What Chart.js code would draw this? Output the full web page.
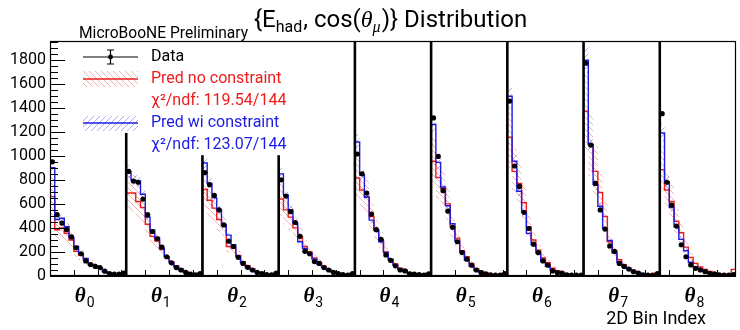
<!DOCTYPE html>
<html><head><meta charset="utf-8">
<script src="https://cdn.jsdelivr.net/npm/chart.js@4.4.0/dist/chart.umd.min.js"></script>
<style>html,body{margin:0;padding:0;background:#fff}#wrap{width:740px;height:330px;position:relative}</style>
</head><body><div id="wrap"><canvas id="c" width="740" height="330"></canvas></div>
<script>
// ---- data ----
const sliceLabels = ['0','1','2','3','4','5','6','7','8'];
const binsPerSlice = 16;
const dataCounts = [
  950,510,440,385,325,235,185,125,95,80,70,40,20,15,15,25,
  870,790,780,640,510,370,310,240,160,110,70,50,30,15,10,20,
  860,760,670,550,425,290,245,155,105,72,50,30,20,12,10,25,
  800,665,535,445,330,205,185,120,105,70,50,30,20,12,8,20,
  1015,850,690,515,385,305,175,130,85,50,42,18,15,12,8,18,
  1315,995,710,540,405,285,195,140,90,50,28,17,10,8,8,20,
  1455,915,745,530,395,265,195,125,90,42,28,25,10,8,8,8,
  1770,1090,770,550,390,250,205,105,80,58,36,25,10,8,8,20,
  1350,780,590,415,260,160,92,64,50,36,22,17,10,8,8,12
];
const predNoConstraint = [
  660,385,400,355,300,205,175,135,105,85,70,40,25,15,15,25,
  690,690,620,570,430,330,290,220,160,120,85,60,35,20,15,25,
  720,630,565,470,425,245,235,170,120,85,60,35,25,15,12,30,
  640,550,490,400,330,245,200,150,115,80,55,38,25,15,12,25,
  815,715,660,495,380,300,200,140,100,65,50,30,20,15,12,25,
  955,820,730,600,410,315,210,160,100,60,40,25,15,10,10,25,
  1155,870,770,610,410,300,215,150,110,65,45,30,18,12,8,10,
  1370,1095,870,695,495,285,210,135,95,65,45,30,20,12,10,25,
  885,715,620,455,360,240,155,105,75,55,38,25,18,12,10,55
];
const predWiConstraint = [
  900,470,480,410,320,245,190,145,95,85,65,35,20,12,12,20,
  870,800,790,680,490,380,320,230,160,110,80,50,30,15,12,20,
  940,770,650,550,420,340,260,165,110,70,50,30,18,12,10,20,
  850,675,550,440,285,230,190,140,100,70,50,30,18,12,8,18,
  1115,840,655,465,380,285,195,135,90,55,40,20,15,12,8,15,
  1260,945,740,585,435,290,200,130,80,45,30,17,10,8,8,15,
  1495,955,705,530,355,260,190,120,80,45,30,20,10,8,6,6,
  1795,1095,760,580,395,295,190,115,80,55,35,25,12,8,8,15,
  1190,785,570,410,305,210,115,75,55,40,25,18,12,8,8,20
];
// relative width of the hatched uncertainty bands, per angular slice
const redRelErr  = [0.24,0.22,0.22,0.22,0.22,0.22,0.22,0.24,0.22];
const blueRelErr = [0.06,0.06,0.06,0.06,0.06,0.06,0.06,0.06,0.06];
// heights of the black slice separators (null = full height)
const separatorTops = [1190,1005,1005,null,null,null,null,null];
const yTickValues = [0,200,400,600,800,1000,1200,1400,1600,1800];
const yMax = 1955;

// ---- helpers building library data ----
function stepPts(vals){const p=[];vals.forEach((v,i)=>{p.push({x:i,y:v});p.push({x:i+1,y:v});});return p;}
function bandPts(vals,rel,sign){return stepPts(vals.map((v,i)=>v*(1+sign*rel[Math.floor(i/binsPerSlice)])));}
function hatch(color,dir){
  const s=6,c=document.createElement('canvas');c.width=s;c.height=s;const x=c.getContext('2d');
  x.strokeStyle=color;x.lineWidth=0.8;x.beginPath();
  if(dir>0){x.moveTo(-1,-1);x.lineTo(s+1,s+1);x.moveTo(s-1,-1);x.lineTo(s+1,1);x.moveTo(-1,s-1);x.lineTo(1,s+1);}
  else{x.moveTo(-1,s+1);x.lineTo(s+1,-1);x.moveTo(-1,1);x.lineTo(1,-1);x.moveTo(s-1,s+1);x.lineTo(s+1,s-1);}
  x.stroke();return x.createPattern(c,'repeat');
}
const ctx=document.getElementById('c').getContext('2d');
const redHatch=hatch('rgba(225,80,80,0.6)',1);
const blueHatch=hatch('rgba(80,80,225,0.6)',-1);
const RED='#ee1c1c', BLUE='#1c1ce6';

const datasets=[
  {label:'Data',data:dataCounts.map((v,i)=>({x:i+0.5,y:v})),showLine:false,pointRadius:2.6,pointBackgroundColor:'#000',pointBorderWidth:0,order:0},
  {label:'blue',data:stepPts(predWiConstraint),borderColor:BLUE,borderWidth:1.4,pointRadius:0,fill:false,order:1},
  {label:'red',data:stepPts(predNoConstraint),borderColor:RED,borderWidth:1.4,pointRadius:0,fill:false,order:2},
  {label:'bLo',data:bandPts(predWiConstraint,blueRelErr,-1),borderWidth:0,pointRadius:0,fill:false,order:3},
  {label:'bHi',data:bandPts(predWiConstraint,blueRelErr,1),borderWidth:0,pointRadius:0,fill:{target:3},backgroundColor:blueHatch,order:4},
  {label:'rLo',data:bandPts(predNoConstraint,redRelErr,-1),borderWidth:0,pointRadius:0,fill:false,order:5},
  {label:'rHi',data:bandPts(predNoConstraint,redRelErr,1),borderWidth:0,pointRadius:0,fill:{target:5},backgroundColor:redHatch,order:6}
];

const decor={
  id:'decor',
  afterDatasetsDraw(chart){
    const c=chart.ctx,a=chart.chartArea,xs=chart.scales.x,ys=chart.scales.y;
    c.save();
    // slice separators
    c.strokeStyle='#000';c.lineWidth=2.6;
    separatorTops.forEach((t,k)=>{
      const x=xs.getPixelForValue((k+1)*binsPerSlice);
      const yt=t==null?a.top:ys.getPixelForValue(t);
      c.beginPath();c.moveTo(x,a.bottom);c.lineTo(x,yt);c.stroke();
    });
    // frame
    c.lineWidth=1.2;c.strokeRect(a.left+0.5,a.top+0.5,a.right-a.left-1,a.bottom-a.top-1);
    c.lineWidth=1.8;c.beginPath();c.moveTo(a.left,a.bottom);c.lineTo(a.right,a.bottom);c.stroke();
    // y ticks inside
    c.lineWidth=1;
    for(let v=0;v<=yMax;v+=50){
      const y=Math.round(ys.getPixelForValue(v))+0.5;const L=(v%200===0)?15:8;
      c.beginPath();c.moveTo(a.left,y);c.lineTo(a.left+L,y);c.stroke();
    }
    // x ticks inside
    for(let b=5;b<144;b+=5){
      const x=Math.round(xs.getPixelForValue(b))+0.5;
      c.beginPath();c.moveTo(x,a.bottom);c.lineTo(x,a.bottom-6);c.stroke();
    }
    // theta labels
    sliceLabels.forEach((s,k)=>{
      const cx=xs.getPixelForValue(k*binsPerSlice+binsPerSlice/2)-4;
      c.fillStyle='#000';
      c.font='italic bold 21px "Liberation Serif"';
      const w1=c.measureText('θ').width;
      c.font='14px Roboto';const w2=c.measureText(s).width;
      const x0=cx-(w1+w2)/2;
      c.font='italic bold 21px "Liberation Serif"';c.textAlign='left';c.textBaseline='alphabetic';
      c.fillText('θ',x0,302);
      c.font='14px Roboto';c.fillText(s,x0+w1+1,307);
    });
    c.font='18px Roboto';c.textAlign='right';c.fillText('2D Bin Index',706,324);
    // title
    c.textAlign='left';
    const segs=[['{E','24px Roboto',0],['had','16px Roboto',5],[', cos(','24px Roboto',0],['θ','italic 24px "Liberation Serif"',0],['μ','italic 16px "Liberation Serif"',5],[')} Distribution','24px Roboto',0]];
    let x=254;
    segs.forEach(([t,f,dy])=>{c.font=f;c.fillText(t,x,27+dy);x+=c.measureText(t).width+(dy?1:0);});
    c.font='15.6px Roboto';c.fillText('MicroBooNE Preliminary',79,38);
    // legend
    c.font='16px Roboto';c.textBaseline='middle';
    // data entry
    c.strokeStyle='#000';c.lineWidth=1.2;
    c.beginPath();c.moveTo(83,57);c.lineTo(138,57);c.moveTo(110.5,50);c.lineTo(110.5,64);
    c.moveTo(107,50);c.lineTo(114,50);c.moveTo(107,64);c.lineTo(114,64);c.stroke();
    c.fillStyle='#000';c.beginPath();c.arc(110.5,57,2.4,0,Math.PI*2);c.fill();
    c.fillText('Data',151,57);
    // red entry
    c.fillStyle=redHatch;c.fillRect(83,71,55,16);
    c.strokeStyle=RED;c.lineWidth=1.4;c.beginPath();c.moveTo(83,79);c.lineTo(138,79);c.stroke();
    c.fillStyle=RED;c.fillText('Pred no constraint',151,79);
    c.fillText('χ²/ndf: 119.54/144',151,101);
    // blue entry
    c.fillStyle=blueHatch;c.fillRect(83,116,55,15);
    c.strokeStyle=BLUE;c.beginPath();c.moveTo(83,123);c.lineTo(138,123);c.stroke();
    c.fillStyle=BLUE;c.fillText('Pred wi constraint',151,123);
    c.fillText('χ²/ndf: 123.07/144',151,145);
    c.restore();
  }
};

new Chart(ctx,{
  type:'line',
  data:{datasets},
  options:{
    responsive:false,animation:false,devicePixelRatio:1,
    layout:{padding:{left:0,right:2,top:41,bottom:54}},
    plugins:{legend:{display:false},tooltip:{enabled:false},title:{display:false}},
    scales:{
      x:{type:'linear',min:0,max:144,display:false},
      y:{type:'linear',min:0,max:yMax,
         afterFit(s){s.width=50;},
         afterBuildTicks(s){s.ticks=yTickValues.map(v=>({value:v}));},
         grid:{display:false,drawTicks:false},border:{display:false},
         ticks:{color:'#000',font:{family:'Roboto',size:16},padding:4,callback:v=>String(v)}}
    }
  },
  plugins:[decor]
});
</script></body></html>
